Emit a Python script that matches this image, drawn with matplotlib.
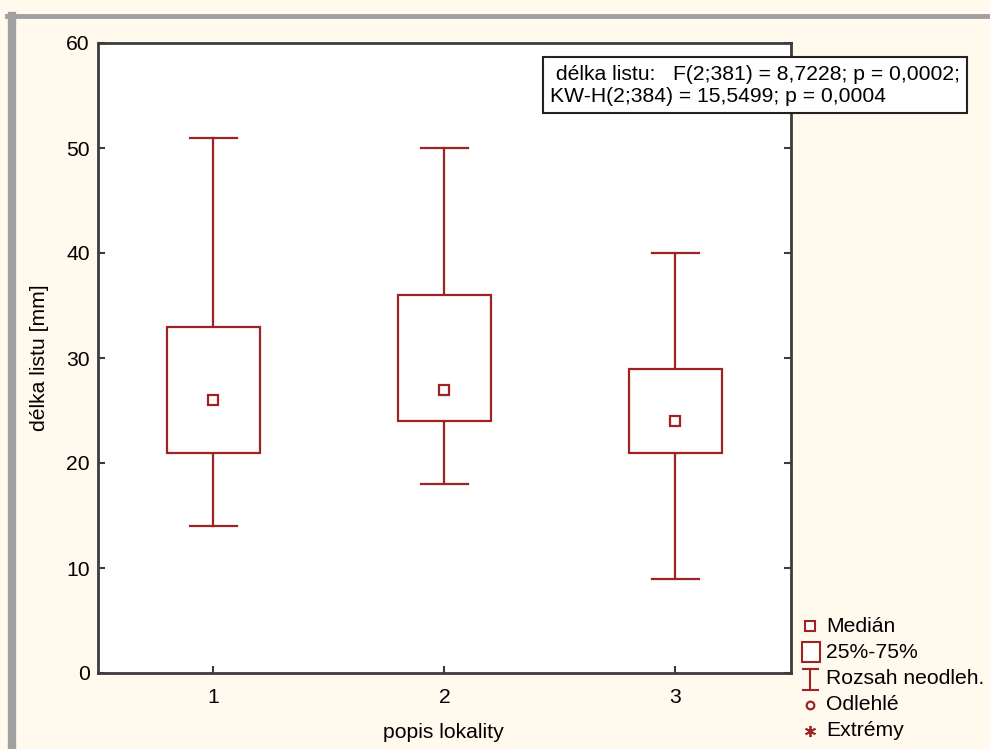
import matplotlib
matplotlib.use("Agg")
import matplotlib.pyplot as plt
from matplotlib.patches import Rectangle
from matplotlib.lines import Line2D

plt.rcParams['font.family'] = ['Liberation Sans', 'DejaVu Sans']

# Summary statistics of leaf length per locality
groups = [1, 2, 3]
medians = [26, 27, 24]
q25 = [21, 24, 21]
q75 = [33, 36, 29]
whisker_low = [14, 18, 9]
whisker_high = [51, 50, 40]

y_ticks = [0, 10, 20, 30, 40, 50, 60]
legend_labels = ["Medián", "25%-75%", "Rozsah neodleh.", "Odlehlé", "Extrémy"]
stats_text = " délka listu:   F(2;381) = 8,7228; p = 0,0002;\nKW-H(2;384) = 15,5499; p = 0,0004"

RED = '#9e2424'
BG = '#fff9ee'
SPINE = '#3c3c3c'
FS = 15.2

fig = plt.figure(figsize=(9.9, 7.49), dpi=100, facecolor=BG)
W, H = 990, 749


def fx(x):
    return x / W


def fy(y):
    return 1 - y / H


tr = fig.transFigure

# window frame lines
fig.add_artist(Line2D([fx(7), 1], [fy(15.5)] * 2, color='#a0a0a0', lw=3.5, transform=tr))
fig.add_artist(Line2D([fx(11.5)] * 2, [0, fy(15.5)], color='#a0a0a0', lw=6, transform=tr))

ax = fig.add_axes([fx(98), fy(673), (791 - 98) / W, (673 - 43) / H])
ax.set_facecolor('white')
ax.set_xlim(0.5, 3.5)
ax.set_ylim(0, 60)

box_w = 0.4
cap_w = 0.2
for g, med, lo, hi, wl, wh in zip(groups, medians, q25, q75, whisker_low, whisker_high):
    ax.add_patch(Rectangle((g - box_w / 2, lo), box_w, hi - lo, facecolor='white',
                           edgecolor=RED, lw=1.6, zorder=3))
    ax.plot([g, g], [hi, wh], color=RED, lw=1.6, zorder=2)
    ax.plot([g, g], [wl, lo], color=RED, lw=1.6, zorder=2)
    ax.plot([g - cap_w / 2, g + cap_w / 2], [wh, wh], color=RED, lw=1.6, zorder=2)
    ax.plot([g - cap_w / 2, g + cap_w / 2], [wl, wl], color=RED, lw=1.6, zorder=2)
    ax.plot([g], [med], marker='s', ms=7, mfc='white', mec=RED, mew=1.6, zorder=4)

ax.set_xticks(groups)
ax.set_xticklabels([str(g) for g in groups])
ax.set_yticks(y_ticks)
ax.tick_params(axis='both', direction='in', length=5, width=1.5, color=SPINE,
               labelsize=FS)
ax.tick_params(axis='x', pad=11)
ax.tick_params(axis='y', right=True, pad=6)
for s in ax.spines.values():
    s.set_color(SPINE)
    s.set_linewidth(2)

# axis titles
fig.text(fx(40), fy(358), "délka listu [mm]", fontsize=FS, rotation=90,
         ha='center', va='center')
fig.text(fx(443), fy(733), "popis lokality", fontsize=FS, ha='center', va='center')

# statistics box
ax.text(fx(550), fy(85), stats_text, transform=tr, fontsize=FS,
        va='center', ha='left', linespacing=1.2, zorder=10,
        bbox=dict(boxstyle='square,pad=0.34', facecolor='white', edgecolor='#222222', lw=1.5))

# legend drawn in figure pixels
rows = [626, 652, 679, 705, 731]
fig.add_artist(Line2D([fx(810)], [fy(rows[0])], marker='s', ms=6.5, mfc='white', mec=RED,
                      mew=1.5, transform=tr))
fig.add_artist(Rectangle((fx(802), fy(662)), fx(18), 20 / H, facecolor='white',
                         edgecolor=RED, lw=1.5, transform=tr))
fig.add_artist(Line2D([fx(810)] * 2, [fy(669), fy(690)], color=RED, lw=1.5, transform=tr))
fig.add_artist(Line2D([fx(803), fx(818)], [fy(669)] * 2, color=RED, lw=1.5, transform=tr))
fig.add_artist(Line2D([fx(803), fx(818)], [fy(690)] * 2, color=RED, lw=1.5, transform=tr))
fig.add_artist(Line2D([fx(810)], [fy(rows[3])], marker='o', ms=5.5, mfc='white', mec=RED,
                      mew=1.6, transform=tr))
fig.add_artist(Line2D([fx(810)], [fy(rows[4])], marker=(6, 2, 0), ms=8, color=RED,
                      mew=1.3, transform=tr))
for y, lab in zip(rows, legend_labels):
    fig.text(fx(826), fy(y), lab, fontsize=FS, va='center', ha='left')

fig.savefig("out.png", dpi=100, facecolor=BG)
